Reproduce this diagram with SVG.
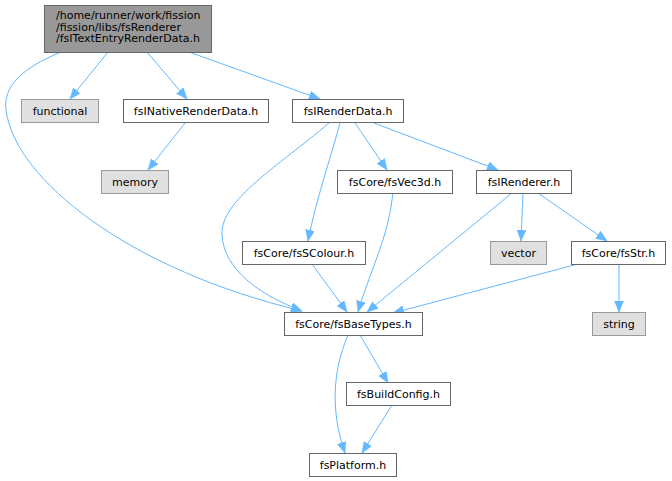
<svg xmlns="http://www.w3.org/2000/svg" width="672" height="481" viewBox="0 0 672 481">
<defs>
<style>
.n rect{fill:#fff;stroke:#666;stroke-width:1}
.s rect{fill:#e0e0e0;stroke:#999;stroke-width:1}
.m rect{fill:#999;stroke:#666;stroke-width:1}
text{font-family:"DejaVu Sans","Liberation Sans",sans-serif;font-size:11px;fill:#000}
.c{text-anchor:middle}
#edges path{fill:none;stroke:#63b8ff;stroke-width:1;marker-end:url(#ah)}
</style>
<marker id="ah" markerUnits="userSpaceOnUse" markerWidth="13" markerHeight="10" refX="11" refY="4.5" orient="auto">
<path d="M0,0 L11,4.5 L0,9 Z" fill="#63b8ff" stroke="#63b8ff" stroke-width="0.5"/>
</marker>
</defs>
<rect width="672" height="481" fill="#fff"/>
<g id="edges">
<path d="M108,52 L70,99"/>
<path d="M147,52 L187,99"/>
<path d="M189,52 L320,99"/>
<path d="M61,52 C35,63 2,80 6,110 C15,180 130,270 302,311"/>
<path d="M185,123 L148,170"/>
<path d="M329,123 C280,165 220,200 222,235 C224,270 260,295 302,311"/>
<path d="M340,123 C330,160 316,200 308,241"/>
<path d="M355,123 L387,170"/>
<path d="M374,123 L498,170"/>
<path d="M393,193 C388,240 370,270 358,312"/>
<path d="M512,193 L367,312"/>
<path d="M523,193 L521,241"/>
<path d="M538,193 L607,241"/>
<path d="M578,264 L393,313"/>
<path d="M619,264 L619,312"/>
<path d="M312,264 L347,312"/>
<path d="M348,335 C333,370 330,410 345,453"/>
<path d="M360,335 L388,383"/>
<path d="M392,405 L362,453"/>
</g>
<g id="n_main" class="m"><rect x="44.5" y="5.5" width="167" height="47"/>
<text x="56" y="19">/home/runner/work/fission</text>
<text x="56" y="30.5">/fission/libs/fsRenderer</text>
<text x="56" y="42">/fsITextEntryRenderData.h</text></g>
<g id="n_functional" class="s"><rect x="21.5" y="99.5" width="77" height="23"/><text class="c" x="60" y="114.5">functional</text></g>
<g id="n_native" class="n"><rect x="123.5" y="99.5" width="145" height="23"/><text class="c" x="196" y="114.5">fsINativeRenderData.h</text></g>
<g id="n_renderdata" class="n"><rect x="292.5" y="99.5" width="111" height="23"/><text class="c" x="348" y="114.5">fsIRenderData.h</text></g>
<g id="n_memory" class="s"><rect x="101.5" y="170.5" width="67" height="23"/><text class="c" x="135" y="185.5">memory</text></g>
<g id="n_vec3d" class="n"><rect x="337.5" y="170.5" width="115" height="23"/><text class="c" x="395" y="185.5">fsCore/fsVec3d.h</text></g>
<g id="n_renderer" class="n"><rect x="476.5" y="170.5" width="95" height="23"/><text class="c" x="524" y="185.5">fsIRenderer.h</text></g>
<g id="n_scolour" class="n"><rect x="242.5" y="241.5" width="123" height="23"/><text class="c" x="304" y="256.5">fsCore/fsSColour.h</text></g>
<g id="n_vector" class="s"><rect x="490.5" y="241.5" width="56" height="23"/><text class="c" x="518.5" y="256.5">vector</text></g>
<g id="n_str" class="n"><rect x="571.5" y="241.5" width="94" height="23"/><text class="c" x="618.5" y="256.5">fsCore/fsStr.h</text></g>
<g id="n_basetypes" class="n"><rect x="284.5" y="312.5" width="138" height="23"/><text class="c" x="353.5" y="327.5">fsCore/fsBaseTypes.h</text></g>
<g id="n_string" class="s"><rect x="592.5" y="312.5" width="53" height="23"/><text class="c" x="619" y="327.5">string</text></g>
<g id="n_buildconfig" class="n"><rect x="346.5" y="382.5" width="104" height="23"/><text class="c" x="398.5" y="397.5">fsBuildConfig.h</text></g>
<g id="n_platform" class="n"><rect x="309.5" y="453.5" width="87" height="23"/><text class="c" x="353" y="468.5">fsPlatform.h</text></g>
</svg>
